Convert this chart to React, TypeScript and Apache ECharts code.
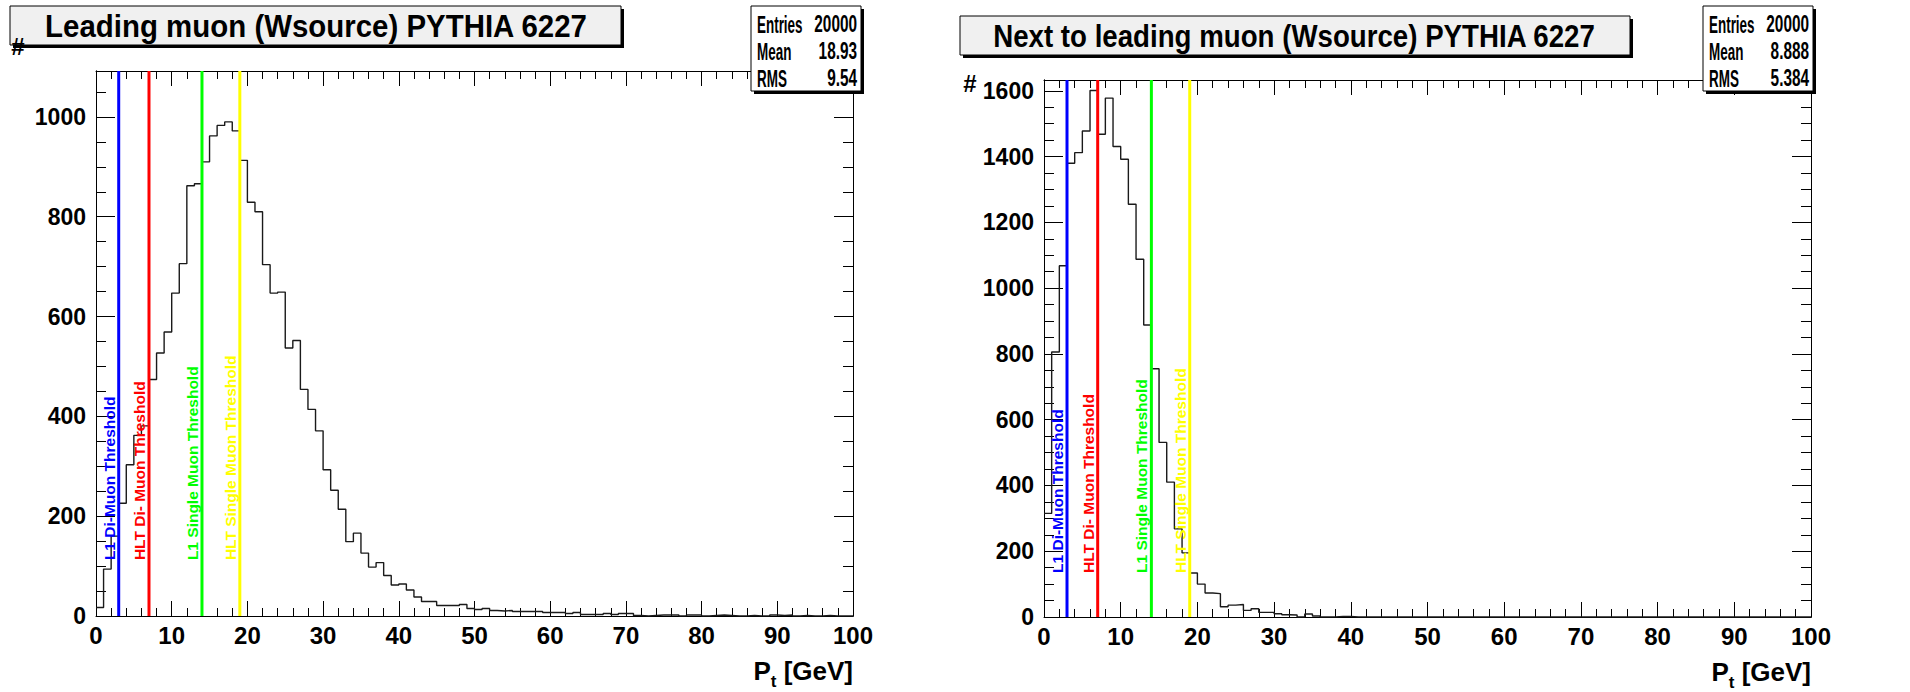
import React, { useEffect, useRef } from 'react';
import * as echarts from 'echarts';

const FONT = "'Liberation Sans', Arial, Helvetica, sans-serif";

const LEFT_TITLE = 'Leading muon (Wsource) PYTHIA 6227';
const RIGHT_TITLE = 'Next to leading muon (Wsource) PYTHIA 6227';
const STAT_NAMES = ['Entries', 'Mean', 'RMS'];
const LEFT_STAT_VALUES = ['20000', '18.93', '9.54'];
const RIGHT_STAT_VALUES = ['20000', '8.888', '5.384'];

const X_MIN = 0;
const X_MAX = 100;
const BIN_WIDTH = 1;
const LEFT_Y_MAX = 1092;
const RIGHT_Y_MAX = 1633;

// Leading muon Pt histogram, 1 GeV bins from 0 to 100
const LEFT_COUNTS = [
  17, 94, 160, 226, 303, 362, 381, 474, 527, 569,
  647, 706, 862, 866, 910, 962, 983, 990, 972, 913,
  829, 810, 704, 647, 649, 537, 552, 454, 414, 371,
  293, 252, 214, 149, 166, 126, 98, 107, 81, 62,
  64, 52, 38, 29, 29, 21, 21, 21, 23, 15,
  13, 15, 11, 10, 11, 9, 9, 9, 9, 7,
  7, 7, 5, 7, 3, 3, 3, 5, 3, 5,
  5, 1, 0, 1, 2, 2, 2, 0, 2, 2,
  0, 1, 2, 1, 0, 0, 1, 0, 0, 2,
  1, 2, 0, 1, 0, 0, 1, 0, 0, 0,
];

// Next-to-leading muon Pt histogram, 1 GeV bins from 0 to 100
const RIGHT_COUNTS = [
  315, 806, 1068, 1380, 1412, 1478, 1601, 1468, 1578, 1431,
  1392, 1255, 1088, 888, 755, 531, 410, 268, 195, 134,
  100, 73, 71, 31, 36, 38, 20, 25, 14, 14,
  10, 7, 6, 0, 9, 3, 0, 0, 2, 2,
  0, 0, 0, 0, 0, 0, 0, 0, 0, 0,
  0, 0, 0, 0, 0, 0, 0, 0, 0, 0,
  0, 0, 0, 0, 0, 0, 0, 0, 0, 0,
  0, 0, 0, 0, 0, 0, 0, 0, 0, 0,
  0, 0, 0, 0, 0, 0, 0, 0, 0, 0,
  0, 0, 0, 0, 0, 0, 0, 0, 0, 0,
];

const THRESHOLDS = [3, 7, 14, 19];
const THRESHOLD_LABELS = [
  'L1 Di-Muon Threshold',
  'HLT Di- Muon Threshold',
  'L1 Single Muon Threshold',
  'HLT Single Muon Threshold',
];
const THRESHOLD_COLORS = ['#0000ff', '#ff0000', '#00ff00', '#ffff00'];
const LEFT_LABEL_Y = 112;
const RIGHT_LABEL_Y = 134;

function histPoints(counts: number[]) {
  const pts: number[][] = counts.map((v, i) => [X_MIN + i * BIN_WIDTH, v]);
  pts.push([X_MIN + counts.length * BIN_WIDTH, counts[counts.length - 1]]);
  return pts;
}

const TICK_STYLE = { color: '#000', width: 1 };

function xAxes(gridIndex: number) {
  const base = {
    type: 'value',
    gridIndex,
    min: X_MIN,
    max: X_MAX,
    interval: 10,
    axisLine: { show: true, onZero: false, lineStyle: { color: '#000', width: 1 } },
    axisTick: { show: true, inside: true, length: 15, lineStyle: TICK_STYLE },
    minorTick: { show: true, splitNumber: 5, length: 8, lineStyle: TICK_STYLE },
    splitLine: { show: false },
    minorSplitLine: { show: false },
  };
  return [
    {
      ...base,
      position: 'bottom',
      axisLabel: {
        show: true, margin: 7, fontSize: 24, fontWeight: 'bold', color: '#000', fontFamily: FONT,
      },
    },
    { ...base, position: 'top', axisLabel: { show: false } },
  ];
}

function yAxes(gridIndex: number, ymax: number) {
  const common = {
    type: 'value',
    gridIndex,
    min: 0,
    max: ymax,
    axisLine: { show: true, onZero: false, lineStyle: { color: '#000', width: 1 } },
    splitLine: { show: false },
  };
  const major = (position: string, labels: boolean) => ({
    ...common,
    position,
    interval: 200,
    axisTick: { show: true, inside: true, length: 19, lineStyle: TICK_STYLE },
    axisLabel: labels
      ? {
          show: true, margin: 10, fontSize: 23, fontWeight: 'bold', color: '#000', fontFamily: FONT,
          formatter: (v: number) => (v % 200 === 0 ? String(v) : ''),
        }
      : { show: false },
  });
  const minor = (position: string) => ({
    ...common,
    position,
    interval: 50,
    axisTick: { show: true, inside: true, length: 10, lineStyle: TICK_STYLE },
    axisLabel: { show: false },
  });
  return [major('left', true), minor('left'), major('right', false), minor('right')];
}

function thresholdSeries(xAxisIndex: number, yAxisIndex: number, ymax: number) {
  return THRESHOLDS.map((t, i) => ({
    type: 'line',
    xAxisIndex,
    yAxisIndex,
    data: [[t, 0], [t, ymax]],
    symbol: 'none',
    lineStyle: { color: THRESHOLD_COLORS[i], width: 3 },
    z: 5,
    silent: true,
  }));
}

function paneBox(x: number, y: number, w: number, h: number, fill: string) {
  return [
    { type: 'rect', shape: { x: x + 3, y: y + 3, width: w, height: h }, style: { fill: '#000' }, z: 100 },
    { type: 'rect', shape: { x, y, width: w, height: h }, style: { fill, stroke: '#000', lineWidth: 1 }, z: 101 },
  ];
}

function statsBox(x: number, y: number, w: number, h: number, values: string[], rowYs: number[]) {
  const els: any[] = paneBox(x, y, w, h, '#ffffff');
  STAT_NAMES.forEach((name, i) => {
    els.push({
      type: 'text', x: x + 6, y: rowYs[i], z: 102, scaleX: 0.56,
      style: { text: name, fill: '#000', fontSize: 24, fontWeight: 'bold', fontFamily: FONT, align: 'left', verticalAlign: 'middle' },
    });
    els.push({
      type: 'text', x: x + w - 4, y: rowYs[i], z: 102, scaleX: 0.64,
      style: { text: values[i], fill: '#000', fontSize: 24, fontWeight: 'bold', fontFamily: FONT, align: 'right', verticalAlign: 'middle' },
    });
  });
  return els;
}

function titleText(text: string, x: number, y: number, sx: number) {
  return {
    type: 'text', x, y, z: 102, scaleX: sx,
    style: { text, fill: '#000', fontSize: 32, fontWeight: 'bold', fontFamily: FONT, align: 'center', verticalAlign: 'middle' },
  };
}

function ptLabel(x: number, y: number) {
  return {
    type: 'text', x, y, z: 102,
    style: {
      text: '{p|P}{s|t}{p| [GeV]}',
      align: 'right',
      verticalAlign: 'top',
      fill: '#000',
      rich: {
        p: { fontSize: 26, fontWeight: 'bold', fontFamily: FONT, lineHeight: 28, verticalAlign: 'top', fill: '#000' },
        s: { fontSize: 17, fontWeight: 'bold', fontFamily: FONT, lineHeight: 17, padding: [15, 0, 0, 0], verticalAlign: 'top', fill: '#000' },
      },
    },
  };
}

function hashLabel(x: number, y: number) {
  return {
    type: 'text', x, y, z: 102,
    style: { text: '#', fill: '#000', fontSize: 24, fontWeight: 'bold', fontFamily: FONT, align: 'center', verticalAlign: 'middle' },
  };
}

export default function App() {
  const ref = useRef<HTMLDivElement>(null);

  useEffect(() => {
    if (!ref.current) return;
    const chart = echarts.init(ref.current, null, { renderer: 'svg' });

    const option: any = {
      animation: false,
      backgroundColor: '#ffffff',
      grid: [
        { left: 96, top: 71, width: 757, height: 545, show: false },
        { left: 1044, top: 80, width: 767, height: 537, show: false },
      ],
      xAxis: [...xAxes(0), ...xAxes(1)],
      yAxis: [...yAxes(0, LEFT_Y_MAX), ...yAxes(1, RIGHT_Y_MAX)],
      series: [
        {
          type: 'line', xAxisIndex: 0, yAxisIndex: 0, data: histPoints(LEFT_COUNTS), step: 'end',
          symbol: 'none', lineStyle: { color: '#1a1a1a', width: 1.4 }, z: 3, silent: true,
        },
        {
          type: 'line', xAxisIndex: 2, yAxisIndex: 4, data: histPoints(RIGHT_COUNTS), step: 'end',
          symbol: 'none', lineStyle: { color: '#1a1a1a', width: 1.4 }, z: 3, silent: true,
        },
        ...thresholdSeries(0, 0, LEFT_Y_MAX),
        ...thresholdSeries(2, 4, RIGHT_Y_MAX),
      ],
    };
    chart.setOption(option);

    const graphics: any[] = [];
    // Title boxes
    graphics.push(...paneBox(10, 6, 611, 39, '#f0f0f0'));
    graphics.push(titleText(LEFT_TITLE, 316, 26, 0.92));
    graphics.push(...paneBox(960, 16, 670, 39, '#f0f0f0'));
    graphics.push(titleText(RIGHT_TITLE, 1294, 36, 0.865));
    // Stats boxes
    graphics.push(...statsBox(751, 6, 110, 85, LEFT_STAT_VALUES, [24, 51, 78]));
    graphics.push(...statsBox(1703, 6, 110, 85, RIGHT_STAT_VALUES, [24, 51, 78]));
    // Y axis titles
    graphics.push(hashLabel(18, 46));
    graphics.push(hashLabel(970, 83));
    // X axis titles
    const lEnd = chart.convertToPixel({ seriesIndex: 0 }, [X_MAX, 0]) as number[];
    const rEnd = chart.convertToPixel({ seriesIndex: 1 }, [X_MAX, 0]) as number[];
    graphics.push(ptLabel(lEnd[0], lEnd[1] + 42));
    graphics.push(ptLabel(rEnd[0], rEnd[1] + 42));
    // Threshold labels
    THRESHOLDS.forEach((t, i) => {
      const pl = chart.convertToPixel({ seriesIndex: 0 }, [t, LEFT_LABEL_Y]) as number[];
      const pr = chart.convertToPixel({ seriesIndex: 1 }, [t, RIGHT_LABEL_Y]) as number[];
      [pl, pr].forEach((p) => {
        graphics.push({
          type: 'text', x: p[0] - 1.5, y: p[1], rotation: Math.PI / 2, z: 50,
          style: {
            text: THRESHOLD_LABELS[i], fill: THRESHOLD_COLORS[i], fontSize: 15.5, fontWeight: 'bold', fontFamily: FONT,
            align: 'left', verticalAlign: 'bottom',
          },
        });
      });
    });
    chart.setOption({ graphic: graphics });

    return () => chart.dispose();
  }, []);

  return (
    <div
      ref={ref}
      style={{ position: 'absolute', left: 0, top: 0, width: 1910, height: 692, background: '#fff' }}
    />
  );
}
